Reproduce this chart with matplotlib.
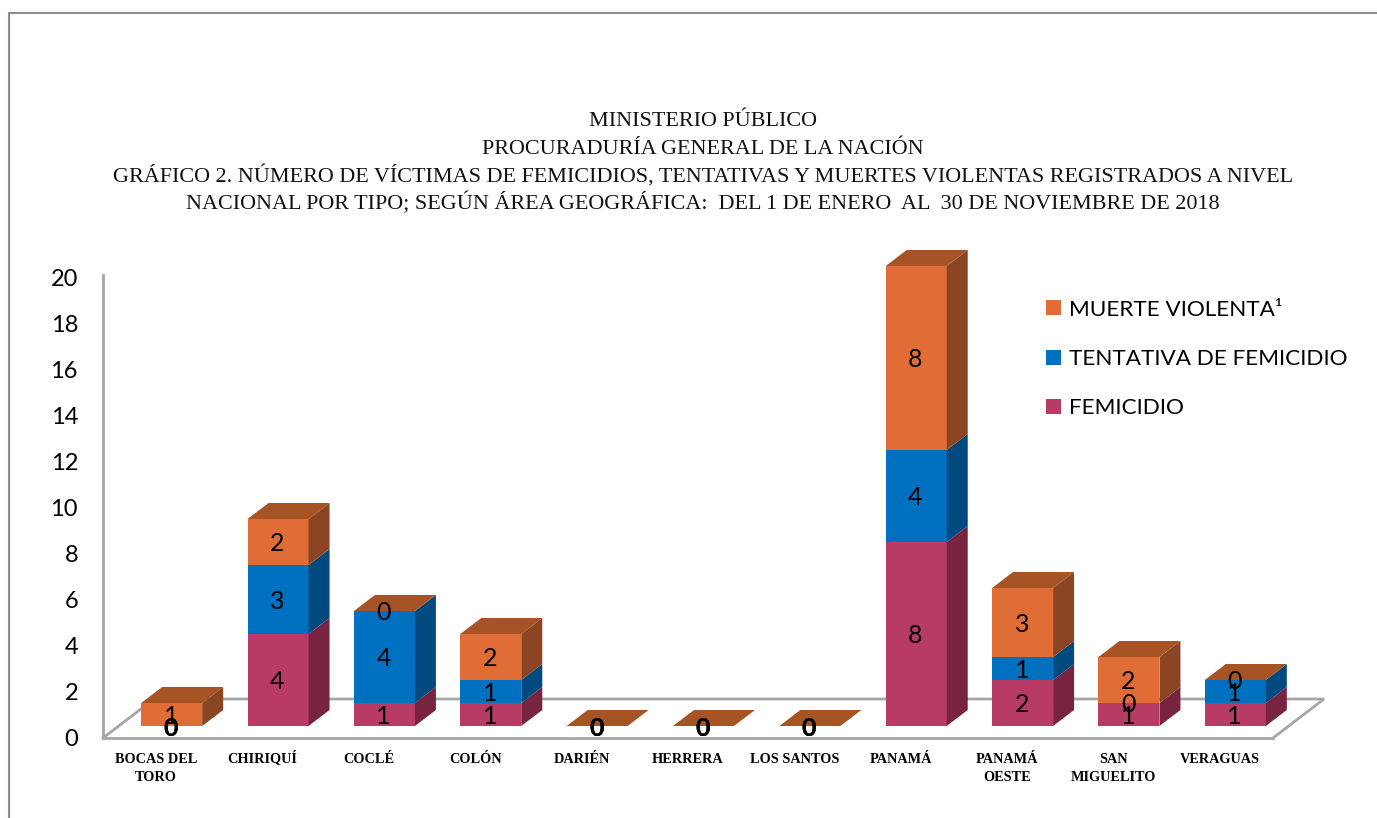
import matplotlib
matplotlib.use('Agg')
import matplotlib.pyplot as plt
import numpy as np
from matplotlib.lines import Line2D
from matplotlib.patches import Patch

categories = ['BOCAS DEL\nTORO', 'CHIRIQUÍ', 'COCLÉ', 'COLÓN', 'DARIÉN', 'HERRERA',
              'LOS SANTOS', 'PANAMÁ', 'PANAMÁ\nOESTE', 'SAN\nMIGUELITO', 'VERAGUAS']
femicidio = [0, 4, 1, 1, 0, 0, 0, 8, 2, 1, 1]
tentativa = [0, 3, 4, 1, 0, 0, 0, 4, 1, 0, 1]
muerte = [1, 2, 0, 2, 0, 0, 0, 8, 3, 2, 0]
series_names = ['FEMICIDIO', 'TENTATIVA DE FEMICIDIO', 'MUERTE VIOLENTA¹']
title_lines = ['MINISTERIO PÚBLICO',
               'PROCURADURÍA GENERAL DE LA NACIÓN',
               'GRÁFICO 2. NÚMERO DE VÍCTIMAS DE FEMICIDIOS, TENTATIVAS Y MUERTES VIOLENTAS REGISTRADOS A NIVEL',
               'NACIONAL POR TIPO; SEGÚN ÁREA GEOGRÁFICA:  DEL 1 DE ENERO  AL  30 DE NOVIEMBRE DE 2018']

front = ['#DF6D35', '#0070C0', '#B83B66']
side = ['#8B4522', '#004A80', '#78233F']
top_color = '#A65326'
axis_gray = '#A6A6A6'

W, H = 1377, 818
fig = plt.figure(figsize=(W / 100, H / 100), dpi=100)
fig.patch.set_facecolor('white')

# plot box in pixels
left, right, bottom, top = 103, 1273, 738, 275
ax = fig.add_axes([left / W, 1 - bottom / H, (right - left) / W, (bottom - top) / H])
ax.set_xlim(-0.5, 10.5)
ax.set_ylim(0, 20.13)
ax.patch.set_alpha(0)

px_x = (right - left) / 11
px_y = (bottom - top) / 20.13

# fake 3d offsets
bar_w = 61 / px_x
shift_x = 15.5 / px_x
base_y = 12 / px_y
dx = 21 / px_x
dy = 16 / px_y
floor_dx = 51 / px_x
floor_dy = 39 / px_y

# floor behind the bars
ax.plot([-0.5, -0.5 + floor_dx, 10.5 + floor_dx, 10.5],
        [0, floor_dy, floor_dy, 0], color=axis_gray, lw=2, clip_on=False, zorder=1,
        solid_joinstyle='miter')

stack = np.array([femicidio, tentativa, muerte], dtype=float)
x = np.arange(len(categories))
order = [2, 1, 0]  # colours are listed muerte first

for i in x:
    cx = i + shift_x
    x0, x1 = cx - bar_w / 2, cx + bar_w / 2
    b = base_y
    for s in range(3):
        v = stack[s, i]
        col = order[s]
        if v > 0:
            ax.bar(cx, v, bar_w, bottom=b, color=front[col], clip_on=False, zorder=3 + i,
                   linewidth=0)
            ax.fill([x1, x1 + dx, x1 + dx, x1], [b, b + dy, b + v + dy, b + v],
                    color=side[col], clip_on=False, zorder=3 + i, linewidth=0)
        b += v
    ax.fill([x0, x1, x1 + dx, x0 + dx], [b, b, b + dy, b + dy],
            color=top_color, clip_on=False, zorder=3 + i, linewidth=0)

# value labels, centred on each segment; zeros stacked on each other look heavier
for i in x:
    b = base_y
    for s in range(3):
        v = stack[s, i]
        same_spot = v == 0 and ((s < 2 and stack[s + 1, i] == 0) or (s > 0 and stack[s - 1, i] == 0))
        ax.text(i + shift_x - 0.008, b + v / 2, '%d' % v, ha='center', va='center_baseline',
                fontsize=18, family='Lato', color='black', zorder=30, clip_on=False,
                fontweight='bold' if same_spot else 'normal')
        b += v

for name in ['top', 'right']:
    ax.spines[name].set_visible(False)
for name in ['left', 'bottom']:
    ax.spines[name].set_color(axis_gray)
    ax.spines[name].set_linewidth(2)
    ax.spines[name].set_zorder(2)

ax.set_yticks(range(0, 21, 2))
ax.set_yticklabels([str(v) for v in range(0, 21, 2)], fontsize=17, family='Lato')
ax.tick_params(axis='y', length=0, pad=18)
ax.set_xticks(x)
ax.set_xticklabels(categories, fontsize=10.3, family='Liberation Serif', fontweight='bold',
                   linespacing=1.55)
ax.tick_params(axis='x', length=0, pad=10.5)
ax.xaxis.get_major_ticks()[1].set_pad(9)  # Í and Q make this one sit lower

handles = [Patch(facecolor=front[order[s]], linewidth=0) for s in [2, 1, 0]]
labels = [series_names[s] for s in [2, 1, 0]]
leg = fig.legend(handles, labels, loc='center left', bbox_to_anchor=(1035 / W, 1 - 359 / H),
                 frameon=False, prop={'family': 'Lato', 'size': 16.2}, labelspacing=1.3,
                 handlelength=0.65, handleheight=0.65, handletextpad=0.38, borderpad=0)

for j, line in enumerate(title_lines):
    fig.text(703 / W, 1 - (126 + 27.7 * j) / H, line, ha='center', va='baseline', fontsize=15.9,
             family='Liberation Serif', color='#111111')

# outer frame of the pasted picture
fig.add_artist(Line2D([8.5 / W, 8.5 / W, 1], [0, 1 - 12.5 / H, 1 - 12.5 / H], color='#8C8C8C', lw=1.5))

fig.savefig('out.png', dpi=100)
